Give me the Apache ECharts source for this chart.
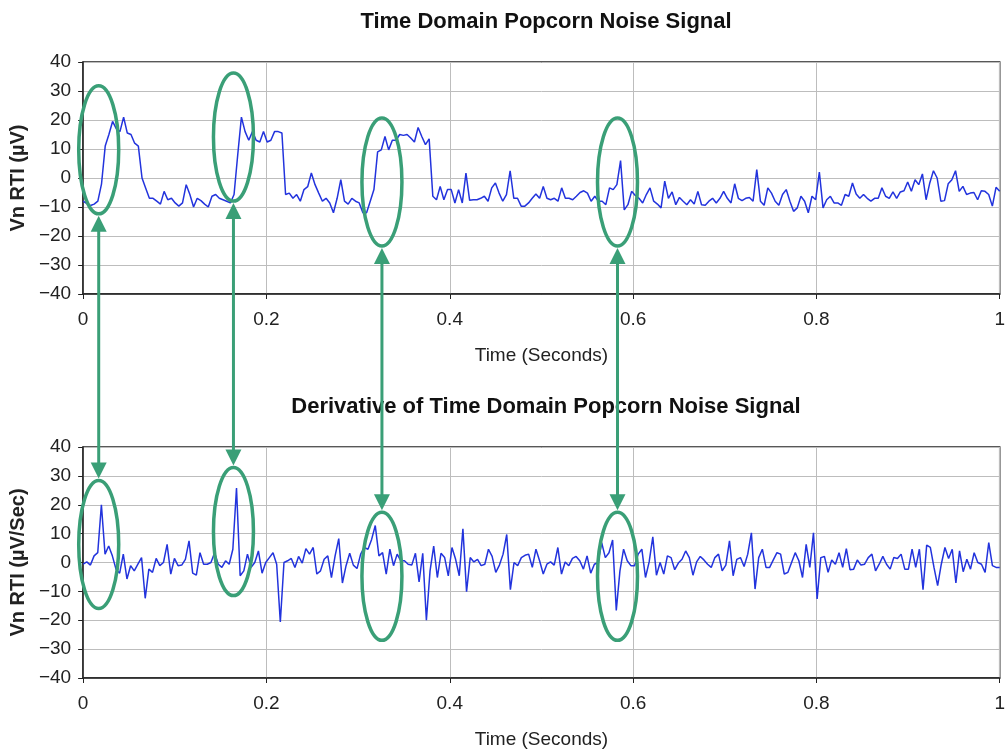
<!DOCTYPE html>
<html>
<head>
<meta charset="utf-8">
<title>Popcorn Noise</title>
<script src="https://cdn.jsdelivr.net/npm/echarts@6/dist/echarts.min.js"></script>
<style>
  html, body { margin: 0; padding: 0; background: #fff; }
  #chart { width: 1008px; height: 755px; }
</style>
</head>
<body>
<div id="chart"></div>
<script>
// top plot: Vn RTI (uV), sampled evenly over 0..1 s
const signal = [
  -8, -8.8, -9.5, -9, -8, -2, 11, 15, 19.5, 17, 16, 21, 15.5, 15, 12, 11, 0, -3.5, -7, -7,
  -8, -9, -4.6, -7.5, -7, -8.6, -9.7, -8.6, -2.3, -5.7, -10, -7, -7.8, -9, -10, -6.3, -5.7, -7, -7.5, -8,
  -8.6, -5.7, 8, 21, 16, 13, 16, 13, 12.4, 16, 12.4, 13, 16, 16, 15.5, -5.7, -5.2, -7, -5.7, -8,
  -4, -3, 1.7, -2.3,
  -5.2, -8, -7, -8.6, -12, -7, -0.6, -8, -9, -7, -8, -8.6, -12, -12, -8, -4, 9, 9.7, 14.3, 9.7,
  13, 13, 15, 14.7, 15, 13.8, 12.4, 17.4, 14.3, 11.5, 13.5, -6.3, -7.5, -2.9, -7.5, -4, -4, -8.6, -4, -8.6,
  1.7, -7.7, -7.5, -7.5, -7, -6.3, -8, -3.4, -1.7, -5.2, -8, -5.7, 2.5, -7, -7, -9.7, -9.7, -8.6, -7, -5.5,
  -7, -2.9, -7,
  -7.5, -7, -8, -3.4, -7, -7, -7.5, -6.3, -5, -4.4, -5.2, -8, -6.3, -8, -8, -9.2, -3.4, -4, -2.3, 6,
  -11, -9.2, -4.6, -6, -7, -8.6, -5.7, -3.4, -8, -9, -10.3, -1.1, -7, -4.8, -9.2, -6.7, -8, -9.2, -7.5, -9,
  -4.6, -9.2, -9.4, -8, -7, -8.6, -7, -4.6, -7, -8.6, -2, -7, -7.8, -7, -6.7, -8, 2.9, -8, -9.4, -3.4,
  -5.2, -8, -9.4,
  -5.7, -4, -8, -11.5, -10.3, -6.3, -8, -12, -6.3, -7.5, 2, -10.3, -7.5, -6.3, -8.6, -8.6, -9.4, -5.7, -6.3, -1.7,
  -5.5, -7, -5.7, -7, -8, -7, -7, -3.4, -6.3, -7, -4.8, -7, -4.8, -4.4, -1.4, -4.6, -0.6, -2.3, 1.4, -7.5,
  -1.7, 2.5, 0, -8, -7.8, -2, -0.6, 2.5, -4.6, -2.9, -5.7, -5.2, -5, -7.5, -4.4, -4.6, -5.7, -9.7, -3.2, -4.6
];

// bottom plot: Vn RTI (uV/Sec), sampled evenly over 0..1 s
const derivative = [
  -0.6, 0.2, -0.9, 2.3, 3.4, 20, 2.9, 5.7, 2.3, -2.3, -3.7, 2.9, -5.7, -1.1, -2.9, -0.6, 1.7, -12.4, -2.3, -3.4,
  1.4, -1.1, 0, 6.3, -4, 1.4, -1.1, -0.9, 1.1, 7.5, -3.7, -4.4, 3.4, -0.6, -0.6, 0, 3.4, -0.6, -1.7, 0.6,
  -0.6, 4.6, 25.8, -4.6, -2.9, 2.9, -1.7, 0, 4, -3.7, 0, 1.7, 3.4, -0.6, -20.6, 0, 0.6, 1.4, -1.7, 2.1,
  -0.2, 4.8, 2.9, 5.2, -4, -2.9,
  1.1, 2.3, -5.2, 2.3, 8.3, -7.1, -1.1, 3.2, -0.9, -2.1, 2.9, 5.2, 4.6, 8, 12.8, 2.3, 3.4, -4, 4.6, -1.1,
  2.9, 0.6, 0.6, -0.6, -0.9, 3.2, -6.7, 3.2, -20, -2.9, 5.7, -5.2, 3.2, 1.7, -4.6, 5.2, 1.1, -4.6, 11.7, -10.1,
  1.7, 0.2, 1.1, -1.1, -0.6, 4.6, 2.1, -3.4, -0.9, 2.9, 9.7, -9.4, 0, -1.1, 1.7, 2.5, 2.9, -1.7, 4.6, 0.6,
  -4, -0.6,
  0.2, -0.9, 5.2, -4, 0.2, -1.1, 1.4, 2.1, 0.6, -2.3, 2.3, -3.7, -0.6, 0, 6.9, 1.7, 3.4, 7.8, -16.6, -2.9,
  4.6, 0.6, -1.1, -1.1, 2.9, 4.6, -5.2, 0.2, 8.9, -4.4, 0, -4, 2.3, 1.7, -2.5, -0.2, 1.1, 4, 1.7, -4.4,
  0.2, 2.1, 0.9, -0.6, -1.7, 1.7, 2.9, -2.9, -0.9, 7.5, -4.6, 1.1, 1.7, -1.4, 2.9, 10.3, -9.2, 1.7, 4.6, -1.7,
  -1.7, 0.9, 3.4,
  2.9, -4, -3.4, 0, 3.4, 0.6, -5.2, 6.3, -1.7, 10.3, -12.6, 1.7, 2.1, -3.4, 0.9, -0.6, 3.4, -1.7, 4.8, -2.5,
  -2.3, 0.9, -0.9, -0.6, 1.7, 2.9, -2.9, -0.6, 2.1, -0.6, -2.3, 1.7, 1.4, 2.9, -2.3, -2.3, 4.6, -1.7, 4.6, -9.4,
  6, 5.2, -1.7, -8, -0.6, 5.2, 1.4, 4.6, -7.1, 4, -3.2, 1.1, -2.3, 3.4, 0, -0.6, -3.4, 6.9, -1.1, -1.7,
  -1.7
];

// circled popcorn events (time, centre value in each plot)
const markTimes = [0.017, 0.164, 0.326, 0.583];
const signalMarkY = [9.7, 14.1, -1.4, -1.4];
const derivMarkY = [6.2, 10.7, -4.8, -4.8];

const xTicks = [0, 0.2, 0.4, 0.6, 0.8, 1];

function toPairs(vals) {
  return vals.map((v, i) => [i / (vals.length - 1), v]);
}

const FONT = '"Liberation Sans", Arial, sans-serif';
const GREEN = '#3a9f77';
const BLUE = '#2233dd';

function xAxisCfg(idx) {
  return {
    type: 'value', gridIndex: idx, min: 0, max: 1, interval: 0.2,
    name: 'Time (Seconds)', nameLocation: 'middle', nameGap: 52,
    nameTextStyle: { fontFamily: FONT, fontSize: 19, color: '#222' },
    axisLine: { onZero: false, lineStyle: { color: '#222', width: 1.5 } },
    axisTick: { show: true, length: 5, lineStyle: { color: '#222' } },
    axisLabel: { fontFamily: FONT, fontSize: 19, color: '#222', margin: 16,
      formatter: v => (xTicks.indexOf(v) >= 0 ? String(v) : '') },
    splitLine: { show: true, lineStyle: { color: '#bdbdbd', width: 1 } }
  };
}

function yAxisCfg(idx, name) {
  return {
    type: 'value', gridIndex: idx, min: -40, max: 40, interval: 10,
    name: name, nameLocation: 'middle', nameGap: 50, nameRotate: 90,
    nameTextStyle: { fontFamily: FONT, fontSize: 20, fontWeight: 'bold', color: '#222' },
    axisLine: { show: true, onZero: false, lineStyle: { color: '#222', width: 1.5 } },
    axisTick: { show: true, length: 5, lineStyle: { color: '#222' } },
    axisLabel: { fontFamily: FONT, fontSize: 19, color: '#222', margin: 12,
      formatter: v => String(v).replace('-', '\u2212') },
    splitLine: { show: true, lineStyle: { color: '#bdbdbd', width: 1 } }
  };
}

const chart = echarts.init(document.getElementById('chart'), null, { renderer: 'canvas' });

chart.setOption({
  animation: false,
  backgroundColor: '#fff',
  title: [
    { text: 'Time Domain Popcorn Noise Signal', left: 541, top: 6, textAlign: 'center',
      textStyle: { fontFamily: FONT, fontSize: 22, fontWeight: 'bold', color: '#111' } },
    { text: 'Derivative of Time Domain Popcorn Noise Signal', left: 541, top: 391, textAlign: 'center',
      textStyle: { fontFamily: FONT, fontSize: 22, fontWeight: 'bold', color: '#111' } }
  ],
  grid: [
    { left: 83, right: 8, top: 62, height: 232, show: true, borderColor: '#222', borderWidth: 1.5 },
    { left: 83, right: 8, top: 447, height: 231, show: true, borderColor: '#222', borderWidth: 1.5 }
  ],
  xAxis: [xAxisCfg(0), xAxisCfg(1)],
  yAxis: [yAxisCfg(0, 'Vn RTI (\u00b5V)'), yAxisCfg(1, 'Vn RTI (\u00b5V/Sec)')],
  series: [
    { type: 'line', xAxisIndex: 0, yAxisIndex: 0, data: toPairs(signal), showSymbol: false,
      lineStyle: { color: BLUE, width: 1.5 }, z: 3 },
    { type: 'line', xAxisIndex: 1, yAxisIndex: 1, data: toPairs(derivative), showSymbol: false,
      lineStyle: { color: BLUE, width: 1.5 }, z: 3 }
  ]
});

// ellipses and double arrows, placed from data coordinates
const RX = 20, RY = 64, HEAD_H = 16, HEAD_W = 8;
const marks = [];
markTimes.forEach((t, k) => {
  const a = chart.convertToPixel({ seriesIndex: 0 }, [t, signalMarkY[k]]);
  const b = chart.convertToPixel({ seriesIndex: 1 }, [t, derivMarkY[k]]);
  const x = a[0];
  const topTip = a[1] + RY + 2;
  const botTip = b[1] - RY - 2;
  marks.push(
    { type: 'ellipse', z: 100, shape: { cx: a[0], cy: a[1], rx: RX, ry: RY },
      style: { fill: 'none', stroke: GREEN, lineWidth: 3.5 } },
    { type: 'ellipse', z: 100, shape: { cx: b[0], cy: b[1], rx: RX, ry: RY },
      style: { fill: 'none', stroke: GREEN, lineWidth: 3.5 } },
    { type: 'line', z: 100, shape: { x1: x, y1: topTip + HEAD_H - 2, x2: x, y2: botTip - HEAD_H + 2 },
      style: { stroke: GREEN, lineWidth: 3 } },
    { type: 'polygon', z: 100,
      shape: { points: [[x, topTip], [x - HEAD_W, topTip + HEAD_H], [x + HEAD_W, topTip + HEAD_H]] },
      style: { fill: GREEN } },
    { type: 'polygon', z: 100,
      shape: { points: [[x, botTip], [x - HEAD_W, botTip - HEAD_H], [x + HEAD_W, botTip - HEAD_H]] },
      style: { fill: GREEN } }
  );
});
chart.setOption({ graphic: marks });
</script>
</body>
</html>
